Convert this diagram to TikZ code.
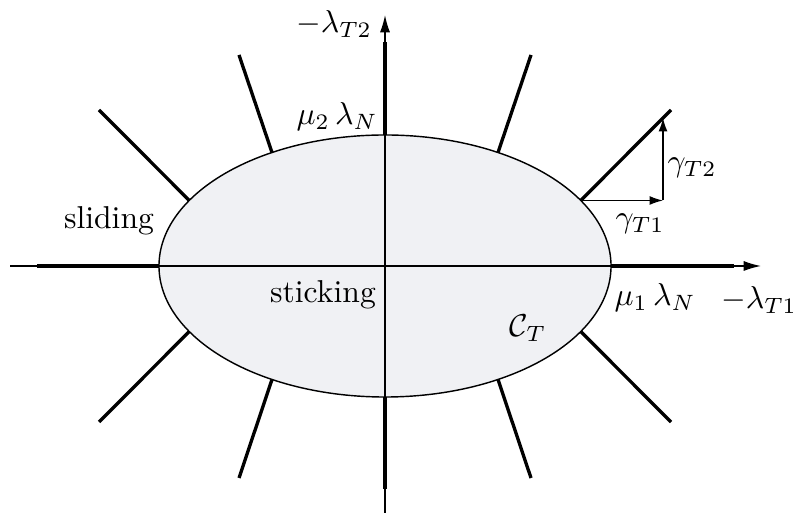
\documentclass[tikz,border=0pt]{standalone}
\usetikzlibrary{arrows.meta}
\definecolor{ellfill}{RGB}{240,241,244}
\begin{document}
\begin{tikzpicture}[x=0.316pt,y=-0.316pt,
  thin axis/.style={line width=0.45pt},
  ray/.style={line width=1.05pt},
  bigtip/.style={-{Latex[length=5.5pt,width=3.2pt]}},
  smalltip/.style={-{Latex[length=4.2pt,width=2.8pt]}},
  lbl/.style={inner sep=0pt}]
\useasboundingbox (0,0) rectangle (796,514);
\coordinate (O) at (385,266);
% ellipse
\filldraw[fill=ellfill, line width=0.45pt] (O) ellipse [x radius=71.42pt, y radius=41.4pt];
% axes
\coordinate (xl) at (10,266);
\coordinate (xr) at (761,266);
\coordinate (yb) at (385,513);
\coordinate (yt) at (385,15);
\draw[thin axis] (xl) -- (O);
\draw[thin axis, bigtip] (O) -- (xr);
\draw[thin axis] (yb) -- (O);
\draw[thin axis, bigtip] (O) -- (yt);
% points on the ellipse
\coordinate (e0)   at (611,266);
\coordinate (e30)  at (580.7,200.5);
\coordinate (e60)  at (498,152.5);
\coordinate (e90)  at (385,135);
\coordinate (e120) at (272,152.5);
\coordinate (e150) at (189.3,200.5);
\coordinate (e180) at (159,266);
\coordinate (e210) at (189.3,331.5);
\coordinate (e240) at (272,379.5);
\coordinate (e270) at (385,397);
\coordinate (e300) at (498,379.5);
\coordinate (e330) at (580.7,331.5);
% ray ends
\coordinate (r0)   at (734,266);
\coordinate (r30)  at (671,110);
\coordinate (r60)  at (531,55);
\coordinate (r90)  at (385,42);
\coordinate (r120) at (239,55);
\coordinate (r150) at (99,110);
\coordinate (r180) at (37,266);
\coordinate (r210) at (99,422);
\coordinate (r240) at (239,478);
\coordinate (r270) at (385,489);
\coordinate (r300) at (531,478);
\coordinate (r330) at (671,422);
\foreach \a in {0,30,60,90,120,150,180,210,240,270,300,330}
  \draw[ray] (e\a) -- (r\a);
% gamma triangle
\coordinate (g1) at (663,200.5);
\coordinate (g2) at (663,118);
\draw[thin axis, smalltip] (e30) -- (g1);
\draw[thin axis, smalltip] (g1) -- (g2);
% labels
\node[lbl] (lT2) at (334,24) {$-\lambda_{T2}$};
\node[lbl] (m2) at (337,117) {$\mu_2\,\lambda_N$};
\node[lbl] (lT1) at (759,300) {$-\lambda_{T1}$};
\node[lbl] (m1) at (655,298) {$\mu_1\,\lambda_N$};
\node[lbl] (gT2) at (692,168) {$\gamma_{T2}$};
\node[lbl] (gT1) at (640,224) {$\gamma_{T1}$};
\node[lbl] (sl) at (109,221) {sliding};
\node[lbl] (st) at (323,295) {sticking};
\node[lbl] (CT) at (528,328) {$\mathcal{C}_T$};
\end{tikzpicture}
\end{document}
